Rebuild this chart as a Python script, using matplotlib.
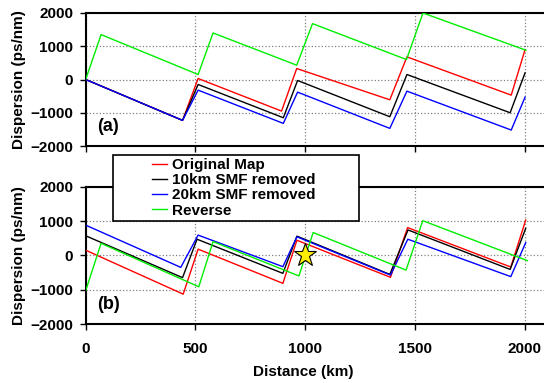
# -*- coding: utf-8 -*-
# Dispersion maps: (a) and (b) panels, with legend floating between them
import matplotlib
matplotlib.use("Agg")
import matplotlib.pyplot as plt
from matplotlib.patches import Rectangle
from matplotlib.lines import Line2D

plt.rcParams['font.family'] = ['Liberation Sans', 'DejaVu Sans']
plt.rcParams['font.weight'] = 'bold'

# --- Datos ---
labels = ['Original Map', '10km SMF removed', '20km SMF removed', 'Reverse']
colors = ['#ff0000', '#000000', '#0000ff', '#00ee00']

# panel (a)
a_x_red = [0, 441, 512, 892, 961, 1385, 1463, 1938, 2001]
a_y_red = [0, -1230, 30, -950, 330, -610, 680, -470, 900]
a_x_black = [0, 441, 466, 512, 900, 965, 1385, 1463, 1933, 2001]
a_y_black = [0, -1230, -850, -150, -1150, -30, -1120, 150, -1000, 200]
a_x_blue = [0, 441, 512, 900, 965, 1385, 1463, 1938, 2001]
a_y_blue = [0, -1230, -320, -1320, -380, -1470, -350, -1520, -530]
a_x_green = [0, 70, 512, 580, 961, 1033, 1461, 1536, 2005]
a_y_green = [0, 1350, 150, 1400, 430, 1680, 600, 2000, 880]

# panel (b)
b_x_red = [0, 444, 512, 898, 962, 1388, 1466, 1936, 2004]
b_y_red = [150, -1130, 180, -815, 440, -640, 810, -340, 1030]
b_x_black = [0, 441, 507, 898, 962, 1385, 1468, 1933, 2004]
b_y_black = [570, -650, 470, -525, 560, -555, 740, -410, 790]
b_x_blue = [0, 433, 512, 898, 962, 1388, 1467, 1936, 2004]
b_y_blue = [880, -350, 590, -330, 540, -575, 470, -620, 370]
b_x_green = [0, 70, 515, 580, 971, 1036, 1459, 1535, 2012]
b_y_green = [-1030, 350, -915, 400, -600, 665, -430, 1010, -155]

star_x = [1000]
star_y = [0]

x_ticks = [0, 500, 1000, 1500, 2000]
y_ticks = [-2000, -1000, 0, 1000, 2000]

# --- Figura ---
fig = plt.figure(figsize=(5.44, 3.83), dpi=100)
W, H = 544.0, 383.0
ax_a = fig.add_axes([85.7 / W, 1 - 146 / H, 1.01 - 85.7 / W, 133 / H])
ax_b = fig.add_axes([85.7 / W, 1 - 324 / H, 1.01 - 85.7 / W, 137.3 / H])

series_a = [(a_x_red, a_y_red), (a_x_black, a_y_black), (a_x_blue, a_y_blue), (a_x_green, a_y_green)]
series_b = [(b_x_red, b_y_red), (b_x_black, b_y_black), (b_x_blue, b_y_blue), (b_x_green, b_y_green)]

for ax, series, tag in [(ax_a, series_a, '(a)'), (ax_b, series_b, '(b)')]:
    for (xs, ys), c in zip(series, colors):
        ax.plot(xs, ys, color=c, lw=1.0, zorder=3)
    ax.set_xlim(0, 2112)
    ax.set_ylim(-2000, 2000)
    ax.set_xticks(x_ticks)
    ax.set_yticks(y_ticks)
    ax.grid(True, color='#808080', linestyle=':', linewidth=0.9)
    ax.spines['right'].set_visible(False)
    for s in ['left', 'top', 'bottom']:
        ax.spines[s].set_linewidth(1.5)
    ax.tick_params(direction='out', length=4, width=1, labelsize=11)
    ax.tick_params(axis='y', pad=5)
    ax.tick_params(axis='x', pad=9)
    ax.set_ylabel('Dispersion (ps/nm)', fontsize=11, fontweight='bold')
    ax.yaxis.set_label_coords(-0.128, 0.5)
    ax.text(50, -1420, tag, fontsize=13, fontweight='bold', va='center', ha='left')

ax_a.tick_params(axis='x', labelbottom=False)
ax_b.plot(star_x, star_y, marker='*', markersize=17, color='#ffee00',
          markeredgecolor='black', markeredgewidth=0.8, ls='none', zorder=4)
ax_b.set_xlabel('Distance (km)', fontsize=11, fontweight='bold')
ax_b.xaxis.set_label_coords(0.47, -0.3)

# recuadro de la leyenda
fig.patches.append(Rectangle((113 / W, 1 - 221 / H), 246 / W, 66 / H,
                             transform=fig.transFigure, facecolor='white',
                             edgecolor='black', linewidth=1.2, zorder=5))
handles = [Line2D([], [], color=c, lw=1.0) for c in colors]
fig.legend(handles, labels, loc='upper left', bbox_to_anchor=(152 / W, 1 - 158 / H),
           frameon=False, fontsize=11, handlelength=1.0, handletextpad=0.3,
           labelspacing=0.08, borderpad=0, borderaxespad=0).set_zorder(6)

plt.savefig('out.png', dpi=100)
